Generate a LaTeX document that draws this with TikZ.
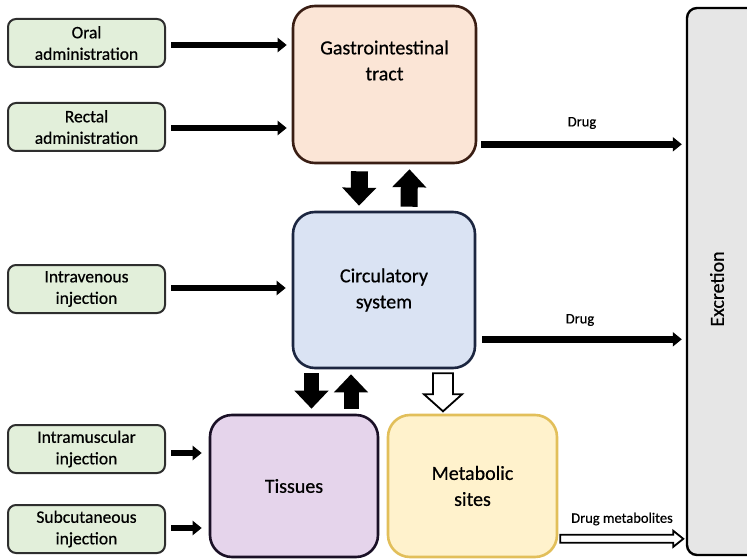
\documentclass[tikz,border=0pt]{standalone}
\usepackage{fontspec}
\setmainfont{Carlito}[FakeBold=0.6]
\usetikzlibrary{arrows.meta,calc}
\definecolor{grfill}{HTML}{E2EFDA}
\definecolor{grline}{HTML}{2E2E2E}
\definecolor{gifill}{HTML}{FBE5D6}
\definecolor{giline}{HTML}{3A1E14}
\definecolor{cifill}{HTML}{DAE3F3}
\definecolor{ciline}{HTML}{1C2640}
\definecolor{tifill}{HTML}{E5D4EB}
\definecolor{tiline}{HTML}{1A1026}
\definecolor{mefill}{HTML}{FFF2CC}
\definecolor{meline}{HTML}{E2BF5A}
\definecolor{exfill}{HTML}{E6E6E6}
\tikzset{
  srcbox/.style={draw=grline, fill=grfill, line width=2pt, rounded corners=8pt,
    minimum width=157pt, minimum height=48pt, inner sep=0pt, align=center,
    font=\fontsize{17.5}{21.5}\selectfont},
  bigbox/.style={line width=2.6pt, rounded corners=22pt, inner sep=0pt,
    align=center, font=\fontsize{20}{26}\selectfont},
  boxtext/.style={align=center, font=\fontsize{20}{26}\selectfont, inner sep=0pt},
  inarrow/.style={line width=6.5pt, -{Triangle[width=14pt,length=9pt]}},
  blockarrow/.style={line width=17pt, -{Triangle[width=33pt,length=18pt]}},
  hollow/.style={draw=black, fill=white, line width=1.8pt, line join=miter},
  smalllabel/.style={font=\fontsize{14.5}{17}\selectfont, inner sep=0pt}
}
\begin{document}
\begin{tikzpicture}[x=1pt,y=-1pt]
\useasboundingbox (0,0) rectangle (747,559);
% source boxes
\node[srcbox] (oral) at (86.5,43) {Oral\\administration};
\node[srcbox] (rect) at (86.5,127) {Rectal\\administration};
\node[srcbox] (iv) at (86.5,289) {Intravenous\\injection};
\node[srcbox] (im) at (86.5,449) {Intramuscular\\injection};
\node[srcbox] (sc) at (86.5,529) {Subcutaneous\\injection};
% main boxes
\node[bigbox, draw=giline, fill=gifill, minimum width=183pt, minimum height=157pt] (gi) at (384.5,84.5) {};
\node[boxtext] (gitext) at ($(gi.center)+(0,-24)$) {Gastrointestinal\\tract};
\node[bigbox, draw=ciline, fill=cifill, minimum width=182pt, minimum height=156pt] (circ) at (384,290) {Circulatory\\system};
\node[bigbox, draw=tiline, fill=tifill, minimum width=168pt, minimum height=142pt] (tis) at (294,486) {Tissues};
\node[bigbox, draw=meline, fill=mefill, minimum width=169pt, minimum height=142pt] (met) at (472.5,486) {Metabolic\\sites};
% excretion
\node[draw=black, fill=exfill, line width=2.4pt, rounded corners=10pt, minimum width=80pt, minimum height=547pt, inner sep=0pt] (exc) at (727,281.5) {};
\node[boxtext, rotate=90] (exctext) at (717,289) {Excretion};
% input arrows
\draw[inarrow] ($(oral.east)+(5,2)$) -- ($(oral.east -| gi.west)+(-5,2)$);
\draw[inarrow] ($(rect.east)+(5,1)$) -- ($(rect.east -| gi.west)+(-5,1)$);
\draw[inarrow] ($(iv.east)+(5,-1)$) -- ($(iv.east -| circ.west)+(-6,-1)$);
\draw[inarrow] ($(im.east)+(5,4)$) -- ($(im.east -| tis.west)+(-7,4)$);
\draw[inarrow] ($(sc.east)+(5,-1)$) -- ($(sc.east -| tis.west)+(-7,-1)$);
% drug arrows
\draw[inarrow] ($(gi.south east)+(4,-20)$) -- ($(gi.south east -| exc.west)+(-4,-20)$);
\node[smalllabel] (drug1) at (582,123) {Drug};
\draw[inarrow] ($(circ.south east)+(6,-30)$) -- ($(circ.south east -| exc.west)+(-4,-30)$);
\node[smalllabel] (drug2) at (580,320) {Drug};
% block arrows GI <-> circ
\draw[blockarrow] ($(gi.south)+(-25,7)$) -- ($(circ.north)+(-25,-5)$);
\draw[blockarrow] ($(circ.north)+(25,-4)$) -- ($(gi.south)+(25,5)$);
% block arrows circ <-> tissues
\draw[blockarrow, line width=15pt] ($(circ.south)+(-72.5,4)$) -- ($(tis.north)+(17.5,-5)$);
\draw[blockarrow, line width=15pt] ($(tis.north)+(57,-5)$) -- ($(circ.south)+(-33,5)$);
% hollow arrow circ -> metabolic
\draw[hollow] ($(circ.south)+(49,4)$) -- ++(20,0) -- ++(0,21) -- ++(9,0) -- ++(-19,17) -- ++(-19,-17) -- ++(9,0) -- cycle;
% hollow arrow metabolic -> excretion
\draw[hollow] ($(met.south east)+(2,-23.5)$) -- ++(113,0) -- ++(0,-4) -- ++(10,8) -- ++(-10,8) -- ++(0,-4) -- ++(-113,0) -- cycle;
\node[smalllabel] (drugmet) at (622,519) {Drug metabolites};
\end{tikzpicture}
\end{document}
